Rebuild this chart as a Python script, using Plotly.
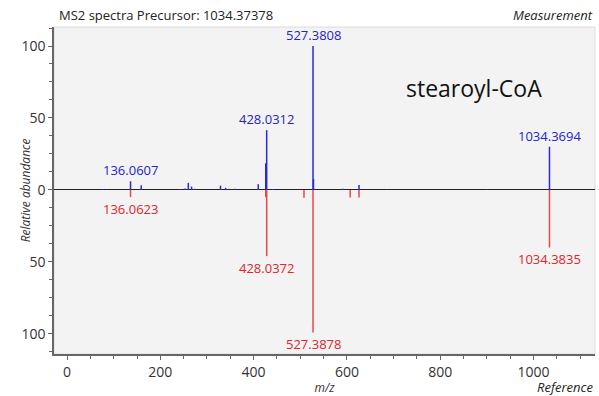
import plotly.graph_objects as go

# ---- data ----
mz_meas = [77, 85, 136.0607, 159, 242, 253, 260, 267, 274, 329, 340, 360,
           410, 426, 428.0312, 442, 527.3808, 528.38, 592, 626, 686, 900, 1034.3694]
int_meas = [0.5, 0.5, 6, 3.2, 0.6, 1.0, 4.9, 2.3, 0.8, 3, 1.5, 0.8,
            4, 18.5, 41.5, 0.7, 100, 7.6, 0.8, 3.5, 0.5, 0.4, 30]
mz_ref = [136.0623, 426, 428.0372, 508, 527.3878, 607, 626, 1034.3835]
int_ref = [5, 5, 46, 5.5, 99, 5.3, 5.3, 40]

lab_meas = ["136.0607", "428.0312", "527.3808", "1034.3694"]
lab_meas_mz = [136.0607, 428.0312, 527.3808, 1034.3694]
lab_meas_int = [6, 41.5, 100, 30]
lab_ref = ["136.0623", "428.0372", "527.3878", "1034.3835"]
lab_ref_mz = [136.0623, 428.0372, 527.3878, 1034.3835]
lab_ref_int = [5, 46, 99, 40]

title_text = "MS2 spectra Precursor: 1034.37378"
compound = "stearoyl-CoA"

BLUE_LINE = "#2a2ad8"
RED_LINE = "#e6484c"
BLUE_TXT = "#2424c8"
RED_TXT = "#e0242c"
FONT = "Open Sans"


def stems(xs, ys, sign):
    X, Y = [], []
    for x, y in zip(xs, ys):
        X += [x, x, None]
        Y += [0, sign * y, None]
    return X, Y


fig = go.Figure()
xr, yr = stems(mz_ref, int_ref, -1)
fig.add_trace(go.Scatter(x=xr, y=yr, mode="lines",
                         line=dict(color=RED_LINE, width=1.5), hoverinfo="skip"))
xm, ym = stems(mz_meas, int_meas, 1)
fig.add_trace(go.Scatter(x=xm, y=ym, mode="lines",
                         line=dict(color=BLUE_LINE, width=1.5), hoverinfo="skip"))

ann = []
for t, x, y in zip(lab_meas, lab_meas_mz, lab_meas_int):
    ann.append(dict(x=x, y=y, xref="x", yref="y", text=t, showarrow=False,
                    yanchor="bottom", yshift=0, font=dict(color=BLUE_TXT, size=13, family=FONT)))
for t, x, y in zip(lab_ref, lab_ref_mz, lab_ref_int):
    ann.append(dict(x=x, y=-y, xref="x", yref="y", text=t, showarrow=False,
                    yanchor="top", yshift=-1, font=dict(color=RED_TXT, size=13, family=FONT)))

ann += [
    dict(x=0.005, y=1.0, xref="paper", yref="paper", text=title_text, showarrow=False,
         xanchor="left", yanchor="bottom", yshift=1, font=dict(size=13, color="#222", family=FONT)),
    dict(x=1.0, y=1.0, xref="paper", yref="paper", text="<i>Measurement</i>", showarrow=False,
         xanchor="right", yanchor="bottom", yshift=1, font=dict(size=13, color="#222", family=FONT)),
    dict(x=1.0, y=0, xref="paper", yref="paper", text="<i>Reference</i>", showarrow=False,
         xanchor="right", yanchor="top", yshift=-22, font=dict(size=13, color="#222", family=FONT)),
    dict(x=0.776, y=0.813, xref="paper", yref="paper", text=compound, showarrow=False,
         xanchor="center", yanchor="middle", font=dict(size=23, color="#111", family=FONT)),
    dict(x=-0.052, y=0.5, xref="paper", yref="paper", text="<i>Relative abundance</i>",
         showarrow=False, textangle=-90, xanchor="center", yanchor="middle",
         font=dict(size=12, color="#333", family=FONT)),
]

fig.update_layout(
    width=599, height=396,
    margin=dict(l=54, r=4, t=27, b=42),
    paper_bgcolor="white", plot_bgcolor="#f3f3f3",
    showlegend=False,
    font=dict(family=FONT, size=13, color="#333"),
    annotations=ann,
    shapes=[dict(type="rect", xref="paper", yref="paper", x0=0, x1=1, y0=0, y1=1,
                 line=dict(color="#dcdcdc", width=1), layer="below")],
)
fig.update_xaxes(
    range=[-28, 1132], showgrid=False, zeroline=False,
    showline=True, linecolor="#666", linewidth=1.5,
    ticks="outside", ticklen=4, tickcolor="#666",
    tickvals=[0, 200, 400, 600, 800, 1000],
    tickfont=dict(size=14, color="#333"),
    minor=dict(dtick=50, tick0=0, ticks="outside", ticklen=3, tickcolor="#666", showgrid=False),
    title=dict(text="<i>m/z</i>", font=dict(size=12, color="#333"), standoff=2),
)
fig.update_yaxes(
    range=[-114, 113.2], showgrid=False,
    zeroline=True, zerolinecolor="#222", zerolinewidth=1.2,
    showline=True, linecolor="#666", linewidth=1.5,
    ticks="outside", ticklen=4, tickcolor="#666",
    tickmode="array", tickvals=[-100, -50, 0, 50, 100],
    ticktext=["100", "50", "0", "50", "100"],
    tickfont=dict(size=14, color="#333"),
    minor=dict(dtick=12.5, tick0=0, ticks="outside", ticklen=3, tickcolor="#666", showgrid=False),
)

fig.write_html("out.html")
